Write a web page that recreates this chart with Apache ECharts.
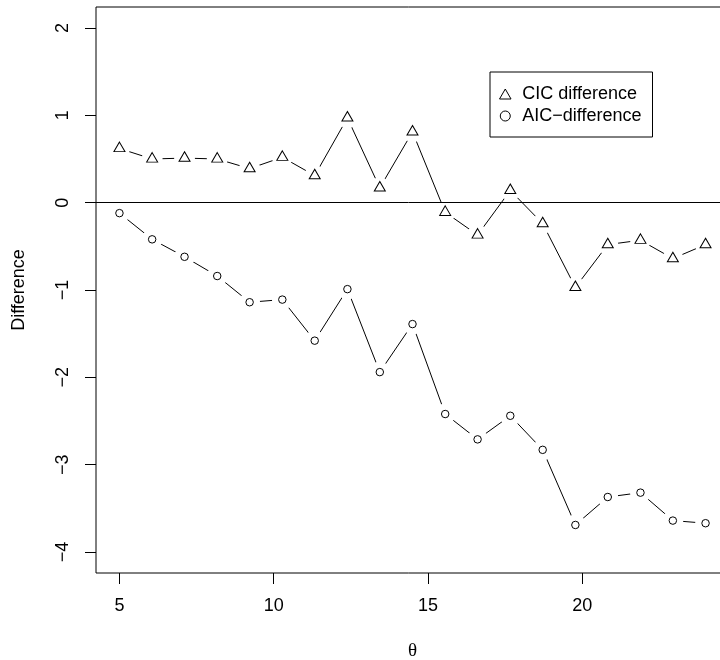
<!DOCTYPE html>
<html style="height: 100%">
   <head>
       <meta charset="utf-8">
   </head>
   <body style="height: 100%; margin: 0; background: #fff">
       <div id="container" style="width: 720px; height: 660px"></div>
       <script type="text/javascript" src="https://cdn.jsdelivr.net/npm/echarts@6/dist/echarts.min.js"></script>
       <script type="text/javascript">
// values
var theta = [5, 6.06, 7.11, 8.17, 9.22, 10.28, 11.33, 12.39, 13.44, 14.5,
             15.56, 16.61, 17.67, 18.72, 19.78, 20.83, 21.89, 22.94, 24];
var cicDiff = [0.62, 0.50, 0.51, 0.50, 0.39, 0.52, 0.31, 0.97, 0.17, 0.81,
               -0.11, -0.37, 0.14, -0.24, -0.97, -0.48, -0.43, -0.64, -0.48];
var aicDiff = [-0.12, -0.42, -0.62, -0.84, -1.14, -1.11, -1.58, -0.99, -1.94, -1.39,
               -2.42, -2.71, -2.44, -2.83, -3.69, -3.37, -3.32, -3.64, -3.67];
var xTicks = [5, 10, 15, 20];
var yTicks = [-4, -3, -2, -1, 0, 1, 2];
var legendNames = ['CIC difference', 'AIC\u2212difference'];

var dom = document.getElementById("container");
var myChart = echarts.init(dom, null, {renderer: 'canvas'});

function pairs(ys) {
    var out = [];
    for (var i = 0; i < theta.length; i++) {
        out.push([theta[i], ys[i]]);
    }
    return out;
}

function minus(v) {
    return v < 0 ? '\u2212' + Math.abs(v) : String(v);
}

var font = 'Liberation Sans';
// open triangle like R's pch 2 (path icon so the legend keeps its shape)
var triPath = 'path://M0,-10L8.66,5L-8.66,5Z';

var option = {
    animation: false,
    backgroundColor: '#fff',
    grid: {
        left: 96,
        top: 7,
        width: 633,
        height: 566,
        containLabel: false,
        outerBoundsMode: 'none',
        show: true,
        borderColor: '#000',
        borderWidth: 1,
        backgroundColor: 'transparent'
    },
    legend: {
        orient: 'vertical',
        left: 490,
        top: 72,
        padding: [13, 11, 12, 9],
        itemWidth: 24,
        itemHeight: 10,
        itemGap: 4,
        symbolKeepAspect: true,
        borderColor: '#000',
        borderWidth: 1,
        selectedMode: false,
        textStyle: {fontFamily: font, fontSize: 18, color: '#000', lineHeight: 18},
        data: [
            {name: legendNames[0], icon: triPath,
             itemStyle: {color: '#fff', borderColor: '#000', borderWidth: 1}},
            {name: legendNames[1], icon: 'circle',
             itemStyle: {color: '#fff', borderColor: '#000', borderWidth: 1}}
        ]
    },
    xAxis: {
        type: 'value',
        min: 4.24,
        max: 24.76,
        name: '\u03b8',
        nameLocation: 'middle',
        nameGap: 69,
        nameTextStyle: {fontFamily: 'Liberation Serif', fontSize: 19, color: '#000'},
        axisLine: {show: false, onZero: false},
        axisTick: {show: true, length: 11, customValues: xTicks, lineStyle: {color: '#000'}},
        axisLabel: {customValues: xTicks, margin: 24, fontFamily: font, fontSize: 18, color: '#000'},
        splitLine: {show: false}
    },
    yAxis: {
        type: 'value',
        min: -4.24,
        max: 2.24,
        name: 'Difference',
        nameLocation: 'middle',
        nameRotate: 90,
        nameGap: 68,
        nameTextStyle: {fontFamily: font, fontSize: 18, color: '#000'},
        axisLine: {show: false, onZero: false},
        axisTick: {show: true, length: 11, customValues: yTicks, lineStyle: {color: '#000'}},
        axisLabel: {customValues: yTicks, rotate: 90, margin: 24, fontFamily: font, fontSize: 18,
                    color: '#000', formatter: minus},
        splitLine: {show: false}
    },
    series: [
        {
            // lines, with white discs to leave gaps round the points
            name: legendNames[0],
            type: 'line',
            data: pairs(cicDiff),
            symbol: 'circle',
            symbolSize: 21,
            showSymbol: true,
            itemStyle: {color: '#fff', borderWidth: 0},
            lineStyle: {color: '#000', width: 1},
            silent: true,
            markLine: {
                silent: true,
                symbol: 'none',
                label: {show: false},
                lineStyle: {color: '#000', width: 1, type: 'solid'},
                data: [{yAxis: 0}]
            }
        },
        {
            name: legendNames[1],
            type: 'line',
            data: pairs(aicDiff),
            symbol: 'circle',
            symbolSize: 21,
            showSymbol: true,
            itemStyle: {color: '#fff', borderWidth: 0},
            lineStyle: {color: '#000', width: 1},
            silent: true
        },
        {
            name: 'cic points',
            type: 'scatter',
            data: pairs(cicDiff),
            symbol: 'triangle',
            symbolSize: [11, 9.5],
            symbolOffset: [0, -1.6],
            itemStyle: {color: '#fff', borderColor: '#000', borderWidth: 1, opacity: 1},
            z: 4
        },
        {
            name: 'aic points',
            type: 'scatter',
            data: pairs(aicDiff),
            symbol: 'circle',
            symbolSize: 7.5,
            itemStyle: {color: '#fff', borderColor: '#000', borderWidth: 1, opacity: 1},
            z: 4
        }
    ]
};

if (option && typeof option === "object") {
    myChart.setOption(option, true);
}
       </script>
   </body>
</html>
